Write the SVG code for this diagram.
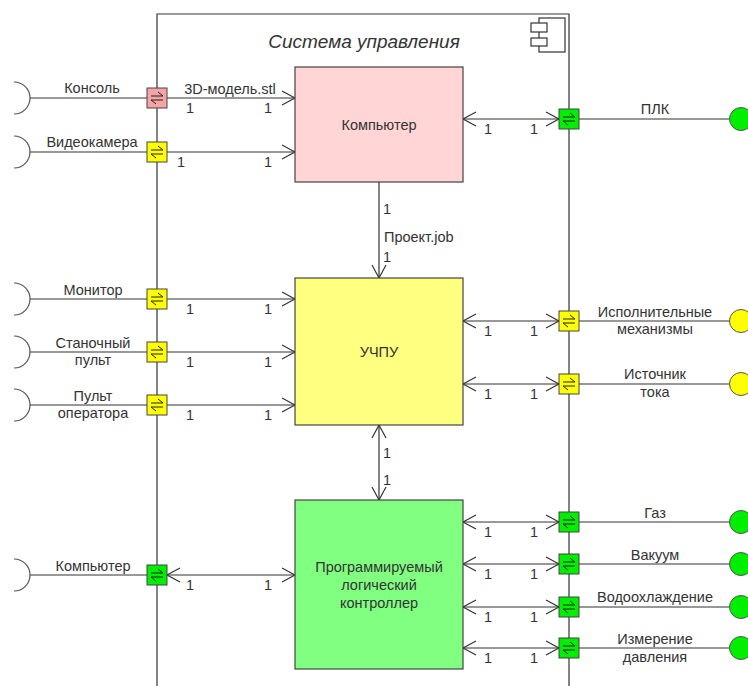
<svg xmlns="http://www.w3.org/2000/svg" xmlns:xlink="http://www.w3.org/1999/xlink" width="748" height="686" viewBox="0 0 748 686">
<style>
text{font-family:"Liberation Sans",Arial,sans-serif;font-size:14.5px;fill:#333}
.c{text-anchor:middle}
.box{stroke:#444;stroke-width:1.2}
.ln{stroke:#333;stroke-width:1.2;fill:none}
.port{stroke:#444;stroke-width:1}
.arc{stroke:#555;stroke-width:1.2;fill:none}
.lollo{stroke:#555;stroke-width:1}
.glyph{stroke:#222;stroke-width:1;fill:none}
</style>
<defs>
<marker id="ah" viewBox="-15 -9 17 18" refX="0" refY="0" markerWidth="17" markerHeight="18" markerUnits="userSpaceOnUse" orient="auto-start-reverse">
<path d="M-13,-7 L0,0 L-13,7" fill="none" stroke="#333" stroke-width="1.2"/>
</marker>
<g id="pg"><path class="glyph" d="M-6,-2 H6 L1,-6 M6,2 H-6 L-1,6"/></g>
</defs>
<rect width="748" height="686" fill="#fff"/>

<g id="system">
<path class="ln" d="M157,686 V14 H569 V686" stroke-width="1.5"/>
<text x="364" y="48" class="c" style="font-style:italic;font-size:19px">Система управления</text>
<g class="ln" stroke-width="1">
<rect x="539" y="18" width="26" height="34" fill="#fff"/>
<rect x="531" y="23" width="16" height="9" fill="#fff"/>
<rect x="531" y="38" width="16" height="8" fill="#fff"/>
</g>
</g>

<g id="connectors">
<path class="ln" d="M30,98 H147 M30,152 H147 M30,299 H147 M30,352 H147 M30,405 H147 M30,575 H147"/>
<path class="ln" d="M579,119 H729 M579,321 H729 M579,384 H729 M579,522 H729 M579,564 H729 M579,607 H729 M579,648 H729"/>
<path class="ln" d="M167,98 H295" marker-end="url(#ah)"/>
<path class="ln" d="M167,152 H295" marker-end="url(#ah)"/>
<path class="ln" d="M167,299 H295" marker-end="url(#ah)"/>
<path class="ln" d="M167,352 H295" marker-end="url(#ah)"/>
<path class="ln" d="M167,405 H295" marker-end="url(#ah)"/>
<path class="ln" d="M167,575 H295" marker-start="url(#ah)" marker-end="url(#ah)"/>
<path class="ln" d="M463,119 H559" marker-start="url(#ah)" marker-end="url(#ah)"/>
<path class="ln" d="M463,321 H559" marker-start="url(#ah)" marker-end="url(#ah)"/>
<path class="ln" d="M463,384 H559" marker-start="url(#ah)" marker-end="url(#ah)"/>
<path class="ln" d="M463,522 H559" marker-start="url(#ah)" marker-end="url(#ah)"/>
<path class="ln" d="M463,564 H559" marker-start="url(#ah)" marker-end="url(#ah)"/>
<path class="ln" d="M463,607 H559" marker-start="url(#ah)" marker-end="url(#ah)"/>
<path class="ln" d="M463,648 H559" marker-start="url(#ah)" marker-end="url(#ah)"/>
<path class="ln" d="M379,182 V278" marker-end="url(#ah)"/>
<path class="ln" d="M379,425 V500" marker-start="url(#ah)" marker-end="url(#ah)"/>
<text x="230" y="94" class="c">3D-модель.stl</text>
<g>
<text x="190" y="113" class="c">1</text><text x="268" y="113" class="c">1</text>
<text x="181" y="167" class="c">1</text><text x="268" y="167" class="c">1</text>
<text x="190" y="314" class="c">1</text><text x="268" y="314" class="c">1</text>
<text x="190" y="367" class="c">1</text><text x="268" y="367" class="c">1</text>
<text x="190" y="420" class="c">1</text><text x="268" y="420" class="c">1</text>
<text x="190" y="590" class="c">1</text><text x="268" y="590" class="c">1</text>
<text x="488" y="134" class="c">1</text><text x="534" y="134" class="c">1</text>
<text x="488" y="336" class="c">1</text><text x="534" y="336" class="c">1</text>
<text x="488" y="399" class="c">1</text><text x="534" y="399" class="c">1</text>
<text x="488" y="537" class="c">1</text><text x="534" y="537" class="c">1</text>
<text x="488" y="579" class="c">1</text><text x="534" y="579" class="c">1</text>
<text x="488" y="622" class="c">1</text><text x="534" y="622" class="c">1</text>
<text x="488" y="663" class="c">1</text><text x="534" y="663" class="c">1</text>
<text x="383" y="214">1</text>
<text x="384" y="242">Проект.job</text>
<text x="383" y="262">1</text>
<text x="383" y="458">1</text>
<text x="383" y="485">1</text>
</g>
</g>

<g id="node-computer">
<rect class="box" x="295" y="67" width="168" height="115" fill="#ffd5d5"/>
<text x="379" y="130" class="c">Компьютер</text>
</g>
<g id="node-uchpu">
<rect class="box" x="295" y="278" width="168" height="147" fill="#ffff80"/>
<text x="379" y="357" class="c">УЧПУ</text>
</g>
<g id="node-plc">
<rect class="box" x="295" y="500" width="168" height="169" fill="#80ff80"/>
<text x="379" y="572" class="c">Программируемый</text>
<text x="379" y="590" class="c">логический</text>
<text x="379" y="608" class="c">контроллер</text>
</g>

<g id="ext-konsol">
<path class="arc" d="M14,82 A16,16 0 0 1 14,114"/>
<text x="92" y="93" class="c">Консоль</text>
<rect class="port" x="147" y="88" width="20" height="20" fill="#f4a4a4"/><use href="#pg" x="157" y="98"/>
</g>
<g id="ext-videokamera">
<path class="arc" d="M14,136 A16,16 0 0 1 14,168"/>
<text x="92" y="147" class="c">Видеокамера</text>
<rect class="port" x="147" y="142" width="20" height="20" fill="#ffff00"/><use href="#pg" x="157" y="152"/>
</g>
<g id="ext-monitor">
<path class="arc" d="M14,283 A16,16 0 0 1 14,315"/>
<text x="93" y="295" class="c">Монитор</text>
<rect class="port" x="147" y="289" width="20" height="20" fill="#ffff00"/><use href="#pg" x="157" y="299"/>
</g>
<g id="ext-stanochny">
<path class="arc" d="M14,336 A16,16 0 0 1 14,368"/>
<text x="93" y="348" class="c">Станочный</text>
<text x="93" y="365" class="c">пульт</text>
<rect class="port" x="147" y="342" width="20" height="20" fill="#ffff00"/><use href="#pg" x="157" y="352"/>
</g>
<g id="ext-pult">
<path class="arc" d="M14,389 A16,16 0 0 1 14,421"/>
<text x="93" y="401" class="c">Пульт</text>
<text x="93" y="418" class="c">оператора</text>
<rect class="port" x="147" y="395" width="20" height="20" fill="#ffff00"/><use href="#pg" x="157" y="405"/>
</g>
<g id="ext-kompyuter">
<path class="arc" d="M14,559 A16,16 0 0 1 14,591"/>
<text x="93" y="571" class="c">Компьютер</text>
<rect class="port" x="147" y="565" width="20" height="20" fill="#00ee00"/><use href="#pg" x="157" y="575"/>
</g>

<g id="ext-plk">
<rect class="port" x="559" y="109" width="20" height="20" fill="#00ee00"/><use href="#pg" x="569" y="119"/>
<text x="655" y="114" class="c">ПЛК</text>
<circle class="lollo" cx="741" cy="119" r="11.5" fill="#00ee00"/>
</g>
<g id="ext-ispoln">
<rect class="port" x="559" y="311" width="20" height="20" fill="#ffff00"/><use href="#pg" x="569" y="321"/>
<text x="655" y="317" class="c">Исполнительные</text>
<text x="655" y="334" class="c">механизмы</text>
<circle class="lollo" cx="741" cy="321" r="11.5" fill="#ffff00"/>
</g>
<g id="ext-istochnik">
<rect class="port" x="559" y="374" width="20" height="20" fill="#ffff00"/><use href="#pg" x="569" y="384"/>
<text x="655" y="379" class="c">Источник</text>
<text x="655" y="397" class="c">тока</text>
<circle class="lollo" cx="741" cy="384" r="11.5" fill="#ffff00"/>
</g>
<g id="ext-gaz">
<rect class="port" x="559" y="512" width="20" height="20" fill="#00ee00"/><use href="#pg" x="569" y="522"/>
<text x="655" y="518" class="c">Газ</text>
<circle class="lollo" cx="741" cy="522" r="11.5" fill="#00ee00"/>
</g>
<g id="ext-vakuum">
<rect class="port" x="559" y="554" width="20" height="20" fill="#00ee00"/><use href="#pg" x="569" y="564"/>
<text x="655" y="560" class="c">Вакуум</text>
<circle class="lollo" cx="741" cy="564" r="11.5" fill="#00ee00"/>
</g>
<g id="ext-voda">
<rect class="port" x="559" y="597" width="20" height="20" fill="#00ee00"/><use href="#pg" x="569" y="607"/>
<text x="655" y="602" class="c">Водоохлаждение</text>
<circle class="lollo" cx="741" cy="607" r="11.5" fill="#00ee00"/>
</g>
<g id="ext-davlenie">
<rect class="port" x="559" y="638" width="20" height="20" fill="#00ee00"/><use href="#pg" x="569" y="648"/>
<text x="655" y="644" class="c">Измерение</text>
<text x="655" y="662" class="c">давления</text>
<circle class="lollo" cx="741" cy="648" r="11.5" fill="#00ee00"/>
</g>
</svg>
